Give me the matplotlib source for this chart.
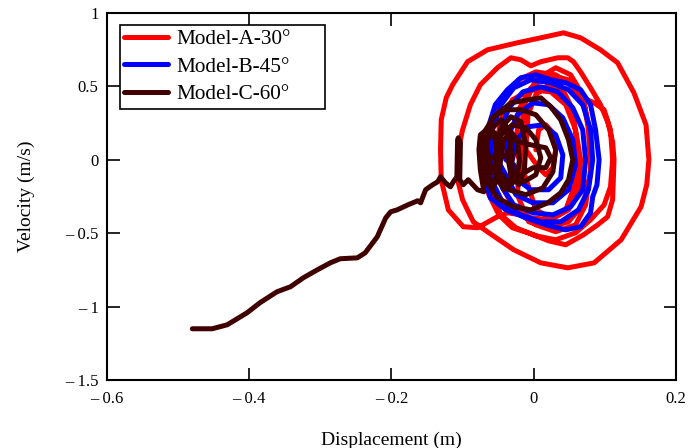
import numpy as np
import matplotlib.pyplot as plt

plt.rcParams['font.family'] = ['Liberation Serif', 'DejaVu Serif']

# Model-A-30 (red) phase trajectory: displacement (m), velocity (m/s)
disp_a = [0.003, 0.007, 0.017, 0.027, 0.031, 0.027, 0.017, 0.007,
          -0.011, -0.008, 0.003, 0.021, 0.041, 0.055, 0.061, 0.058, 0.045, 0.024, 0.003, -0.008,
          -0.025, -0.021, -0.004, 0.021, 0.049, 0.070, 0.080, 0.080, 0.069, 0.049, 0.021, -0.007, -0.023,
          -0.018, -0.013, 0.003, 0.031, 0.052, 0.069, 0.077, 0.080, 0.073, 0.059, 0.031, 0.003, -0.018,
          -0.037, -0.051, -0.079, -0.099, -0.120, -0.130,
          -0.131, -0.130, -0.123, -0.114, -0.093, -0.065, -0.023, 0.010, 0.042, 0.066, 0.094, 0.118,
          0.141, 0.158, 0.162, 0.159, 0.151, 0.123, 0.085, 0.048, 0.010, -0.028, -0.061, -0.085,
          -0.100, -0.107, -0.106,
          -0.100, -0.089, -0.075, -0.051, -0.032, -0.018, -0.004, 0.010, 0.034, 0.048, 0.056, 0.066,
          0.080, 0.094, 0.104, 0.111, 0.113, 0.111, 0.104, 0.090, 0.070, 0.045, 0.021, -0.004,
          -0.030, -0.049, -0.063, -0.068,
          -0.065, -0.056, -0.042, -0.021, 0.003, 0.031, 0.052, 0.066, 0.085, 0.099, 0.108, 0.111,
          0.108, 0.099, 0.080, 0.059, 0.031, 0.003, -0.025, -0.046, -0.058, -0.061,
          -0.054, -0.046, -0.030, -0.004, 0.024, 0.045, 0.059, 0.066, 0.063, 0.049, 0.024, -0.004,
          -0.028, -0.042, -0.046]
vel_a = [0.068, 0.204, 0.238, 0.184, 0.068, -0.054, -0.102, -0.054,
         0.068, 0.307, 0.443, 0.511, 0.477, 0.341, 0.102, -0.170, -0.341, -0.395, -0.341, -0.170,
         0.068, 0.341, 0.490, 0.579, 0.545, 0.409, 0.170, -0.102, -0.307, -0.422, -0.463, -0.422, -0.238,
         0.068, 0.375, 0.545, 0.627, 0.579, 0.443, 0.204, -0.068, -0.307, -0.443, -0.490, -0.443, -0.375,
         -0.361, -0.388, -0.463, -0.456, -0.341, -0.136,
         0.068, 0.272, 0.422, 0.511, 0.668, 0.749, 0.797, 0.831, 0.865, 0.831, 0.749, 0.661,
         0.456, 0.238, 0.000, -0.170, -0.320, -0.545, -0.702, -0.736, -0.702, -0.613, -0.504, -0.422,
         -0.272, -0.136, 0.068,
         0.204, 0.375, 0.511, 0.627, 0.695, 0.681, 0.640, 0.668, 0.695, 0.695, 0.668, 0.599,
         0.490, 0.375, 0.259, 0.123, 0.000, -0.272, -0.388, -0.443, -0.511, -0.579, -0.552, -0.504,
         -0.463, -0.375, -0.238, -0.068,
         0.102, 0.286, 0.429, 0.545, 0.599, 0.579, 0.511, 0.429, 0.388, 0.341, 0.204, 0.000,
         -0.184, -0.307, -0.409, -0.497, -0.545, -0.518, -0.463, -0.375, -0.238, -0.068,
         0.068, 0.272, 0.409, 0.477, 0.463, 0.375, 0.204, 0.000, -0.204, -0.341, -0.409, -0.395,
         -0.327, -0.204, -0.068]

# Model-B-45 (blue)
disp_b = [-0.030, -0.024, -0.008, 0.013, 0.031, 0.041, 0.038, 0.021, -0.004, -0.023, -0.028,
          -0.039, -0.035, -0.023, -0.001, 0.021, 0.041, 0.055, 0.059, 0.049, 0.027, -0.001, -0.025, -0.037,
          -0.051, -0.046, -0.035, -0.015, 0.010, 0.034, 0.055, 0.069, 0.073, 0.069, 0.052, 0.027, -0.001,
          -0.028, -0.044,
          -0.061, -0.058, -0.046, -0.028, -0.004, 0.024, 0.049, 0.069, 0.080, 0.083, 0.077, 0.063, 0.038,
          0.010, -0.018, -0.042, -0.056,
          -0.068, -0.065, -0.054, -0.037, -0.018, 0.003, 0.024, 0.045, 0.066, 0.080, 0.087, 0.092, 0.089,
          0.083, 0.080, 0.066, 0.045, 0.017, -0.011, -0.039, -0.061, -0.068]
vel_b = [0.000, 0.136, 0.225, 0.238, 0.170, 0.034, -0.123, -0.204, -0.204, -0.136, -0.034,
         0.000, 0.170, 0.307, 0.388, 0.375, 0.286, 0.136, -0.034, -0.204, -0.293, -0.293, -0.238, -0.123,
         0.000, 0.204, 0.354, 0.463, 0.497, 0.463, 0.354, 0.204, 0.000, -0.204, -0.320, -0.375, -0.361,
         -0.307, -0.191,
         0.000, 0.204, 0.375, 0.490, 0.545, 0.525, 0.477, 0.375, 0.204, 0.000, -0.204, -0.341, -0.422,
         -0.422, -0.375, -0.307, -0.170,
         0.000, 0.204, 0.375, 0.477, 0.559, 0.579, 0.545, 0.525, 0.477, 0.375, 0.204, 0.000, -0.170,
         -0.252, -0.361, -0.456, -0.477, -0.443, -0.395, -0.341, -0.259, -0.136]

# Model-C-60 (dark)
disp_c = [-0.480, -0.452, -0.431, -0.403, -0.385, -0.361, -0.342, -0.324, -0.304, -0.286, -0.272,
          -0.248, -0.237, -0.220, -0.208, -0.201, -0.192, -0.177, -0.163, -0.159, -0.152, -0.142, -0.135,
          -0.131, -0.124, -0.117, -0.113, -0.108, -0.107, -0.106, -0.103, -0.104, -0.099, -0.092, -0.079,
          -0.070, -0.075, -0.077, -0.075, -0.063, -0.054, -0.051, -0.056, -0.065, -0.068, -0.061, -0.046,
          -0.035, -0.030, -0.032, -0.042, -0.051, -0.052, -0.046, -0.032, -0.018, -0.011, -0.013, -0.021,
          -0.032, -0.037, -0.030, -0.004, 0.017, 0.024, 0.017, -0.001, -0.018, -0.046, -0.061, -0.068,
          -0.058, -0.032, -0.008, 0.010, 0.024, 0.038, 0.049, 0.055, 0.049, 0.038, 0.020, -0.004, -0.028,
          -0.051, -0.068, -0.075, -0.070, -0.056, -0.039, -0.018, 0.003, 0.021, 0.031, 0.027, 0.013,
          -0.011, -0.035, -0.049, -0.054, -0.046, -0.030, -0.011, 0.003, 0.010, 0.003, -0.014, -0.030,
          -0.032,
          -0.072, -0.069, -0.061, -0.051, -0.046, -0.049, -0.058, -0.068,
          -0.046, -0.042, -0.032, -0.023, -0.020, -0.024, -0.035, -0.044]
vel_c = [-1.151, -1.151, -1.124, -1.042, -0.974, -0.899, -0.865, -0.804, -0.749, -0.702, -0.674,
         -0.668, -0.634, -0.525, -0.395, -0.354, -0.341, -0.307, -0.279, -0.293, -0.204, -0.170, -0.150,
         -0.116, -0.157, -0.184, -0.150, -0.116, 0.136, 0.150, 0.116, -0.136, -0.170, -0.136, -0.204,
         -0.218, -0.068, 0.068, 0.170, 0.218, 0.136, -0.034, -0.170, -0.102, 0.068, 0.204, 0.272,
         0.204, 0.034, -0.136, -0.204, -0.102, 0.068, 0.218, 0.293, 0.259, 0.102, -0.068, -0.170,
         -0.102, 0.034, 0.136, 0.102, 0.082, 0.014, -0.054, -0.054, -0.102, -0.170, -0.034, 0.136,
         0.286, 0.388, 0.409, 0.422, 0.361, 0.272, 0.136, 0.000, -0.136, -0.225, -0.293, -0.341, -0.320,
         -0.259, -0.136, 0.034, 0.184, 0.293, 0.341, 0.341, 0.307, 0.204, 0.068, -0.082, -0.191,
         -0.238, -0.204, -0.102, 0.034, 0.170, 0.238, 0.218, 0.136, 0.014, -0.102, -0.150, -0.082,
         0.034,
         0.000, 0.136, 0.204, 0.170, 0.034, -0.123, -0.191, -0.136,
         0.000, 0.136, 0.191, 0.136, 0.000, -0.136, -0.177, -0.102]

x_ticks = [-0.6, -0.4, -0.2, 0, 0.2]
x_tick_labels = ['\u2013 0.6', '\u2013 0.4', '\u2013 0.2', '0', '0.2']
y_ticks = [-1.5, -1, -0.5, 0, 0.5, 1]
y_tick_labels = ['\u2013 1.5', '\u2013 1', '\u2013 0.5', '0', '0.5', '1']

fig = plt.figure(figsize=(6.89, 4.48), dpi=100)
ax = fig.add_axes([0.1553, 0.1518, 0.8257, 0.8192])

line_kw = dict(lw=3.6, solid_joinstyle='round', solid_capstyle='round')
ax.plot(disp_a, vel_a, color='#ff0000', label='Model-A-30\u00b0', **line_kw)
ax.plot(disp_b, vel_b, color='#0000ff', label='Model-B-45\u00b0', **line_kw)
ax.plot(disp_c, vel_c, color='#400000', label='Model-C-60\u00b0', **line_kw)

ax.set_xlim(-0.6, 0.2)
ax.set_ylim(-1.5, 1)
ax.set_xticks(x_ticks)
ax.set_xticklabels(x_tick_labels)
ax.set_yticks(y_ticks)
ax.set_yticklabels(y_tick_labels)
ax.tick_params(direction='in', length=9, width=1.2, top=True, right=True, labelsize=12, pad=6)
ax.tick_params(axis='x', pad=8)
for s in ax.spines.values():
    s.set_linewidth(1.5)

ax.set_xlabel('Displacement (m)', fontsize=14, labelpad=18)
ax.set_ylabel('Velocity (m/s)', fontsize=14, labelpad=22)

leg = ax.legend(loc='upper left', bbox_to_anchor=(0.0228, 0.967, 0.36, 0.0), mode='expand',
                fontsize=15.3, frameon=True, fancybox=False, edgecolor='black',
                framealpha=1, handlelength=2.07, handletextpad=0.38, borderpad=0.2, labelspacing=0.36,
                borderaxespad=0)
leg.get_frame().set_linewidth(1.2)

fig.savefig('out.png', dpi=100)
